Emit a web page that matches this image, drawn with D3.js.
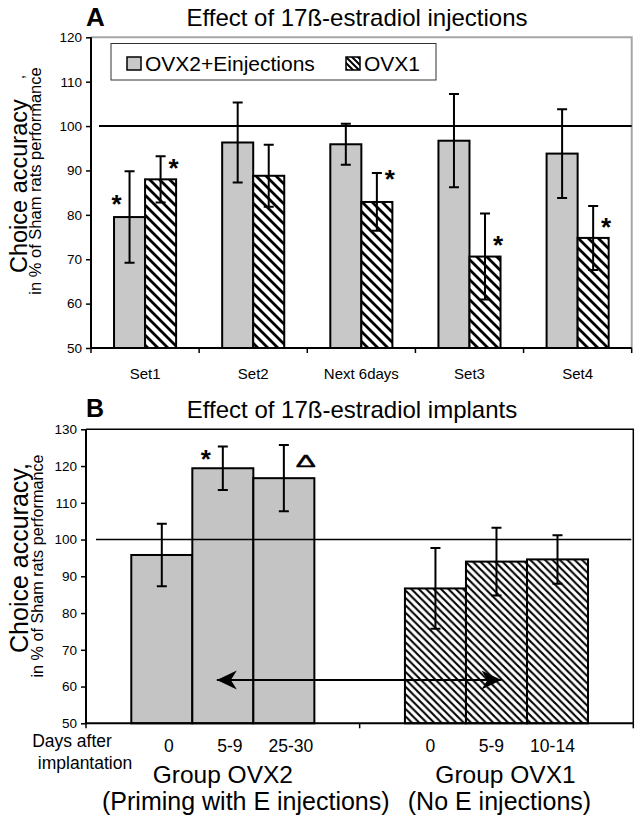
<!DOCTYPE html>
<html><head><meta charset="utf-8">
<script src="https://cdn.jsdelivr.net/npm/d3@7"></script>
<style>body{margin:0;background:#fff} svg{display:block;font-family:Arial,"Liberation Sans",sans-serif}</style>
</head><body><svg id="c" width="639" height="819"></svg>
<script>
// ---------- Panel A data ----------
const catsA = ["Set1", "Set2", "Next 6days", "Set3", "Set4"];
const seriesA = ["OVX2+Einjections", "OVX1"];
const injMean = [79.5, 96.3, 95.9, 96.7, 93.8];
const injErr  = [10.3, 9.0, 4.6, 10.5, 10.0];
const ovx1Mean = [88.0, 88.8, 82.9, 70.6, 74.8];
const ovx1Err  = [5.2, 7.0, 6.5, 9.7, 7.2];
const ticksA = [50, 60, 70, 80, 90, 100, 110, 120];
// significance marks: category, series index, level (value units) where drawn
const starsA = [
  {cat: "Set1", s: 0, at: 83.8, side: -1},
  {cat: "Set1", s: 1, at: 92.0, side: 1},
  {cat: "Next 6days", s: 1, at: 89.5, side: 1},
  {cat: "Set3", s: 1, at: 74.5, side: 1},
  {cat: "Set4", s: 1, at: 78.7, side: 1}
];

// ---------- Panel B data ----------
const groupsB = ["Group OVX2", "Group OVX1"];
const groupSub = ["(Priming with E injections)", "(No E injections)"];
const daysB = [["0", "5-9", "25-30"], ["0", "5-9", "10-14"]];
const meanB = [[95.8, 119.4, 116.7], [86.7, 94.0, 94.6]];
const errB  = [[8.5, 5.9, 9.0], [11.0, 9.2, 6.6]];
const ticksB = [50, 60, 70, 80, 90, 100, 110, 120, 130];
const arrowLevel = 61.8;

const svg = d3.select("#c");
const defs = svg.append("defs");
function hatch(id, step, sw) {
  const p = defs.append("pattern").attr("id", id).attr("patternUnits", "userSpaceOnUse")
    .attr("width", step).attr("height", step);
  p.append("rect").attr("width", step).attr("height", step).attr("fill", "#fff");
  p.append("path")
    .attr("d", `M${-step/2},${step/2} L${step/2},${step*1.5} M0,0 L${step},${step} M${step/2},${-step/2} L${step*1.5},${step/2}`)
    .attr("stroke", "#000").attr("stroke-width", sw);
}
hatch("hA", 10, 2.8);
hatch("hB", 7.4, 2.1);
hatch("hL", 6, 2.0);
const GRAY = "#c8c8c8";

function arrowHead(id) {
  const m = defs.append("marker").attr("id", id).attr("viewBox", "-21 -11 23 22")
    .attr("refX", 0).attr("refY", 0).attr("markerWidth", 23).attr("markerHeight", 22)
    .attr("markerUnits", "userSpaceOnUse").attr("orient", "auto-start-reverse");
  m.append("path").attr("d", "M0,0 L-20,-9.5 L-14,0 L-20,9.5 Z").attr("fill", "#000");
}
arrowHead("arr");

// ================= PANEL A =================
const A = {l: 91, r: 631.7, t: 37.3, b: 348};
const yA = d3.scaleLinear().domain([50, 120]).range([A.b, A.t]);
const xA = d3.scaleBand().domain(catsA).range([A.l, A.r]);
const xA1 = d3.scaleBand().domain([0, 1]).range([0, xA.bandwidth()]).paddingOuter(0.742);
const gA = svg.append("g");

// frame (gray top/right)
gA.append("path").attr("d", `M${A.l},${A.t} H${A.r} V${A.b}`).attr("fill", "none")
  .attr("stroke", "#a6a6a6").attr("stroke-width", 2);

const rowsA = [];
catsA.forEach((c, i) => {
  rowsA.push({cat: c, s: 0, v: injMean[i], e: injErr[i]});
  rowsA.push({cat: c, s: 1, v: ovx1Mean[i], e: ovx1Err[i]});
});
gA.selectAll("rect.bar").data(rowsA).join("rect")
  .attr("x", d => xA(d.cat) + xA1(d.s)).attr("width", xA1.bandwidth())
  .attr("y", d => yA(d.v)).attr("height", d => yA(50) - yA(d.v))
  .attr("fill", d => d.s === 0 ? GRAY : "url(#hA)")
  .attr("stroke", "#000").attr("stroke-width", 2);

// 100 reference line
gA.append("line").attr("x1", A.l + 8).attr("x2", A.r).attr("y1", yA(100)).attr("y2", yA(100))
  .attr("stroke", "#000").attr("stroke-width", 2);

// error bars
gA.selectAll("path.eb").data(rowsA).join("path").attr("d", d => {
  const cx = xA(d.cat) + xA1(d.s) + xA1.bandwidth() / 2;
  const t = yA(d.v + d.e), b = yA(d.v - d.e);
  return `M${cx},${t} V${b} M${cx-5},${t} H${cx+5} M${cx-5},${b} H${cx+5}`;
}).attr("stroke", "#000").attr("stroke-width", 2).attr("fill", "none");

// asterisks
gA.selectAll("text.st").data(starsA).join("text")
  .attr("x", d => xA(d.cat) + xA1(d.s) + xA1.bandwidth() / 2 + d.side * 13)
  .attr("y", d => yA(d.at) + 15)
  .attr("text-anchor", "middle").attr("font-size", 26).attr("font-weight", "bold").text("*");

// axes
const axA = gA.append("g").attr("transform", `translate(${A.l},0)`)
  .call(d3.axisLeft(yA).tickValues(ticksA).tickSize(5).tickPadding(4));
axA.select(".domain").attr("stroke-width", 2).attr("d", `M0,${A.t}V${A.b}`);
axA.selectAll(".tick line").attr("stroke-width", 1.5);
axA.selectAll("text").attr("font-size", 13.5).attr("font-family", "Arial, 'Liberation Sans', sans-serif").attr("fill", "#000");

const axAb = gA.append("g").attr("transform", `translate(0,${A.b})`)
  .call(d3.axisBottom(xA).tickSize(0).tickPadding(20));
axAb.select(".domain").attr("stroke-width", 2).attr("d", `M${A.l},0H${A.r}`);
axAb.selectAll("text").attr("font-size", 15).attr("font-family", "Arial, 'Liberation Sans', sans-serif").attr("fill", "#000");
gA.selectAll("line.bt").data(catsA.map(c => xA(c)).concat([A.r])).join("line")
  .attr("x1", d => d).attr("x2", d => d).attr("y1", A.b).attr("y2", A.b + 5)
  .attr("stroke", "#000").attr("stroke-width", 1.5);

// legend
gA.append("rect").attr("x", 111).attr("y", 43.5).attr("width", 325).attr("height", 36.5)
  .attr("fill", "#fff").attr("stroke", "#333").attr("stroke-width", 1);
const lg = gA.selectAll("g.lg").data(seriesA).join("g")
  .attr("transform", (d, i) => `translate(${i === 0 ? 127 : 346},57)`);
lg.append("rect").attr("width", 14).attr("height", 13)
  .attr("fill", (d, i) => i === 0 ? GRAY : "url(#hL)").attr("stroke", "#000").attr("stroke-width", 1.5);
lg.append("text").attr("x", 18).attr("y", 13.5).attr("font-size", 21).text(d => d);

// titles
svg.append("text").attr("x", 86).attr("y", 26).attr("font-size", 26).attr("font-weight", "bold").text("A");
svg.append("text").attr("x", 357).attr("y", 26).attr("text-anchor", "middle").attr("font-size", 24)
  .text("Effect of 17ß-estradiol injections");

// y label A
const ylA = svg.append("text").attr("transform", "translate(27,273) rotate(-90)").attr("font-size", 23.5);
ylA.append("tspan").text("Choice accuracy");
ylA.append("tspan").attr("dx", 20).attr("dy", -3).attr("font-size", 16).text(",");
svg.append("text").attr("transform", "translate(41,181) rotate(-90)").attr("text-anchor", "middle")
  .attr("font-size", 16.5).text("in % of Sham rats performance");

// ================= PANEL B =================
const B = {l: 86, r: 633.3, t: 429.3, b: 723.3};
const yB = d3.scaleLinear().domain([50, 130]).range([B.b, B.t]);
const xB = d3.scaleBand().domain(groupsB).range([B.l, B.r]);
const xB1 = d3.scaleBand().domain([0, 1, 2]).range([0, xB.bandwidth()]).paddingOuter(0.742);
const gB = svg.append("g");

gB.append("path").attr("d", `M${B.l},${B.t} H${B.r} V${B.b}`).attr("fill", "none")
  .attr("stroke", "#000").attr("stroke-width", 1.5);

const rowsB = [];
groupsB.forEach((g, gi) => daysB[gi].forEach((d, j) =>
  rowsB.push({g, gi, j, day: d, v: meanB[gi][j], e: errB[gi][j]})));
const cxB = d => xB(d.g) + xB1(d.j) + xB1.bandwidth() / 2;

gB.selectAll("rect.bar").data(rowsB).join("rect")
  .attr("x", d => xB(d.g) + xB1(d.j)).attr("width", xB1.bandwidth())
  .attr("y", d => yB(d.v)).attr("height", d => yB(50) - yB(d.v))
  .attr("fill", d => d.gi === 0 ? "#c4c4c4" : "url(#hB)")
  .attr("stroke", "#000").attr("stroke-width", 2);

gB.append("line").attr("x1", B.l + 10).attr("x2", B.r - 2).attr("y1", yB(100)).attr("y2", yB(100))
  .attr("stroke", "#000").attr("stroke-width", 1.6);

gB.selectAll("path.eb").data(rowsB).join("path").attr("d", d => {
  const cx = cxB(d), t = yB(d.v + d.e), b = yB(d.v - d.e);
  return `M${cx},${t} V${b} M${cx-5},${t} H${cx+5} M${cx-5},${b} H${cx+5}`;
}).attr("stroke", "#000").attr("stroke-width", 2).attr("fill", "none");

// marks
const r59 = rowsB[1], r2530 = rowsB[2];
gB.append("text").attr("x", cxB(r59) - 17).attr("y", yB(123.5) + 15).attr("text-anchor", "middle")
  .attr("font-size", 26).attr("font-weight", "bold").text("*");
gB.append("text")
  .attr("transform", `translate(${cxB(r2530) + 22},${yB(121.2) + 5}) scale(1,0.55)`)
  .attr("text-anchor", "middle").attr("font-size", 30).attr("stroke", "#000").attr("stroke-width", 0.6)
  .text("Δ");

// arrow
const a1 = rowsB[1], a2 = rowsB[4];
gB.append("line").attr("x1", cxB(a1) - 6).attr("x2", cxB(a2) + 5)
  .attr("y1", yB(arrowLevel)).attr("y2", yB(arrowLevel))
  .attr("stroke", "#000").attr("stroke-width", 2)
  .attr("marker-start", "url(#arr)").attr("marker-end", "url(#arr)");

// axes B
const axB = gB.append("g").attr("transform", `translate(${B.l},0)`)
  .call(d3.axisLeft(yB).tickValues(ticksB).tickSize(5).tickPadding(4));
axB.select(".domain").attr("stroke-width", 2).attr("d", `M0,${B.t}V${B.b}`);
axB.selectAll(".tick line").attr("stroke-width", 1.5);
axB.selectAll("text").attr("font-size", 13.5).attr("font-family", "Arial, 'Liberation Sans', sans-serif").attr("fill", "#000");
gB.append("line").attr("x1", B.l).attr("x2", B.r).attr("y1", B.b).attr("y2", B.b)
  .attr("stroke", "#000").attr("stroke-width", 2);
gB.selectAll("line.bt").data(groupsB.map(g => xB(g)).concat([B.r])).join("line")
  .attr("x1", d => d).attr("x2", d => d).attr("y1", B.b).attr("y2", B.b + 5)
  .attr("stroke", "#000").attr("stroke-width", 1.5);

// day labels
const dayShift = [7, -5];
gB.selectAll("text.day").data(rowsB).join("text")
  .attr("x", d => cxB(d) + dayShift[d.gi]).attr("y", 752).attr("text-anchor", "middle")
  .attr("font-size", 17.5).text(d => d.day);
svg.append("text").attr("x", 72).attr("y", 747).attr("text-anchor", "middle").attr("font-size", 17.5).text("Days after");
svg.append("text").attr("x", 85).attr("y", 769).attr("text-anchor", "middle").attr("font-size", 17.5).text("implantation");
const subShift = [[0, 23], [9, 3]];
gB.selectAll("text.grp").data(groupsB).join("text")
  .attr("x", (d, i) => xB(d) + xB.bandwidth() / 2 + subShift[i][0]).attr("y", 783)
  .attr("text-anchor", "middle").attr("font-size", 24.5).text(d => d);
gB.selectAll("text.sub").data(groupSub).join("text")
  .attr("x", (d, i) => xB(groupsB[i]) + xB.bandwidth() / 2 + subShift[i][1]).attr("y", 810)
  .attr("text-anchor", "middle").attr("font-size", 25).text(d => d);

// titles B
svg.append("text").attr("x", 86).attr("y", 417).attr("font-size", 25).attr("font-weight", "bold").text("B");
svg.append("text").attr("x", 352).attr("y", 418).attr("text-anchor", "middle").attr("font-size", 24)
  .text("Effect of 17ß-estradiol implants");

// y label B
svg.append("text").attr("transform", "translate(28,558) rotate(-90)").attr("text-anchor", "middle")
  .attr("font-size", 25).text("Choice accuracy,");
svg.append("text").attr("transform", "translate(43,566) rotate(-90)").attr("text-anchor", "middle")
  .attr("font-size", 16.2).text("in % of Sham rats performance");
</script>
</body></html>
